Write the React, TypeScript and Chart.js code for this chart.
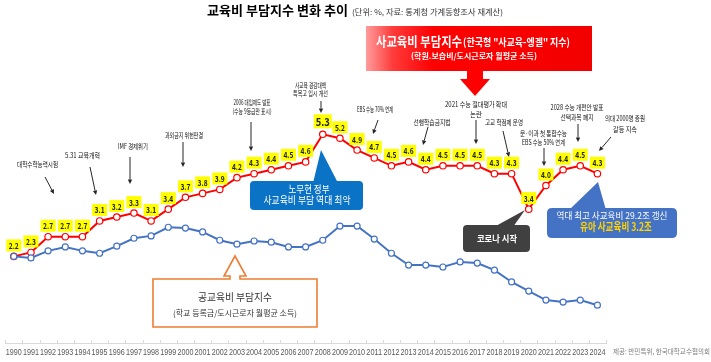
import React, { useEffect, useRef } from 'react';
import { Chart, registerables } from 'chart.js';

Chart.register(...registerables);

// ---------- data ----------
const years = [
  '1990', '1991', '1992', '1993', '1994', '1995', '1996', '1997', '1998', '1999',
  '2000', '2001', '2002', '2003', '2004', '2005', '2006', '2007', '2008', '2009',
  '2010', '2011', '2012', '2013', '2014', '2015', '2016', '2017', '2018', '2019',
  '2020', '2021', '2022', '2023', '2024',
];

// 사교육비 부담지수 (red)
const privateIndex = [
  2.2, 2.3, 2.7, 2.7, 2.7, 3.1, 3.2, 3.3, 3.1, 3.4,
  3.7, 3.8, 3.9, 4.2, 4.3, 4.4, 4.5, 4.6, 5.3, 5.2,
  4.9, 4.7, 4.5, 4.6, 4.4, 4.5, 4.5, 4.5, 4.3, 4.3,
  3.4, 4.0, 4.4, 4.5, 4.3,
];

// 공교육비 부담지수 (blue, unlabelled; estimated)
const publicIndex = [
  2.2, 2.16, 2.34, 2.44, 2.34, 2.28, 2.46, 2.66, 2.72, 2.94,
  2.92, 2.82, 2.61, 2.51, 2.59, 2.56, 2.44, 2.44, 2.61, 2.97,
  2.97, 2.64, 2.28, 1.98, 1.98, 1.93, 2.06, 2.03, 1.85, 1.55,
  1.32, 1.09, 1.04, 1.09, 0.96,
];

const titleText = '교육비 부담지수 변화 추이';
const subtitleText = '(단위: %, 자료: 통계청 가계동향조사 재계산)';
const creditText = '제공: 반민특위, 한국대학교수협의회';

// event annotations: text lines
const eventTexts = [
  ['대학수학능력시험'],
  ['5.31 교육개혁'],
  ['IMF 경제위기'],
  ['과외금지 위헌판결'],
  ['2006 대입제도 발표', '(수능 9등급만 표시)'],
  ['사교육 경감대책', '특목고 입시 개선'],
  ['EBS 수능 70% 연계'],
  ['선행학습금지법'],
  ['2021 수능 절대평가 확대', '논란'],
  ['고교 학점제 운영'],
  ['문·이과 첫 통합수능', 'EBS 수능 50% 연계'],
  ['2028 수능 개편안 발표', '선택과목 폐지'],
  ['의대 2000명 증원', '갈등 지속'],
];

// ---------- layout of annotations (positions only) ----------
const eventLayout = [
  { cx: 37.5, ys: [164.5], ws: [41], arrow: [45, 177, 54, 194] },
  { cx: 82.5, ys: [155.5], ws: [35], arrow: [90, 167, 96, 195] },
  { cx: 133, ys: [146], ws: [30], arrow: [130, 157, 130, 184] },
  { cx: 184, ys: [135], ws: [38], arrow: [183, 142, 183, 167] },
  { cx: 252, ys: [102, 111.5], ws: [37, 39], arrow: [251, 122, 251, 151] },
  { cx: 310.5, ys: [85, 93.5], ws: [31, 35], arrow: [321, 101, 321, 113] },
  { cx: 375, ys: [109], ws: [36], arrow: [378, 120, 373, 134] },
  { cx: 432, ys: [122], ws: [37], arrow: [428, 127, 423, 145] },
  { cx: 476, ys: [104, 114], ws: [62, 12], arrow: [476, 120, 476, 144] },
  { cx: 504, ys: [122], ws: [38], arrow: [503, 131, 509, 157] },
  { cx: 543.5, ys: [133, 142], ws: [47, 43], arrow: [544, 148, 544, 166] },
  { cx: 577, ys: [107.5, 117], ws: [53, 33], arrow: [578, 124, 578, 142] },
  { cx: 625, ys: [118, 129], ws: [40, 24], arrow: [611, 137, 599, 151] },
];

const KR = '"Noto Sans CJK KR", "Noto Sans", sans-serif';

type TxtOpts = { bold?: boolean; color?: string; align?: 'left' | 'center'; width?: number; family?: string };

function txt(ctx: CanvasRenderingContext2D, s: string, x: number, y: number, size: number, o: TxtOpts = {}) {
  ctx.save();
  ctx.font = `${o.bold ? 'bold ' : ''}${size}px ${o.family || KR}`;
  ctx.fillStyle = o.color || '#000';
  ctx.textBaseline = 'middle';
  ctx.textAlign = 'left';
  const nat = ctx.measureText(s).width || 1;
  const w = o.width ?? nat;
  const left = o.align === 'center' ? x - w / 2 : x;
  ctx.translate(left, y);
  ctx.scale(w / nat, 1);
  ctx.fillText(s, 0, 0);
  ctx.restore();
}

function arrow(ctx: CanvasRenderingContext2D, x1: number, y1: number, x2: number, y2: number) {
  const ang = Math.atan2(y2 - y1, x2 - x1);
  const hl = 4.5;
  const hw = 2.2;
  const bx = x2 - Math.cos(ang) * hl;
  const by = y2 - Math.sin(ang) * hl;
  ctx.save();
  ctx.strokeStyle = '#262626';
  ctx.fillStyle = '#262626';
  ctx.lineWidth = 1;
  ctx.beginPath();
  ctx.moveTo(x1, y1);
  ctx.lineTo(bx, by);
  ctx.stroke();
  ctx.beginPath();
  ctx.moveTo(x2, y2);
  ctx.lineTo(bx + Math.sin(ang) * hw, by - Math.cos(ang) * hw);
  ctx.lineTo(bx - Math.sin(ang) * hw, by + Math.cos(ang) * hw);
  ctx.closePath();
  ctx.fill();
  ctx.restore();
}

function roundRect(ctx: CanvasRenderingContext2D, x: number, y: number, w: number, h: number, r: number) {
  ctx.beginPath();
  ctx.moveTo(x + r, y);
  ctx.lineTo(x + w - r, y);
  ctx.quadraticCurveTo(x + w, y, x + w, y + r);
  ctx.lineTo(x + w, y + h - r);
  ctx.quadraticCurveTo(x + w, y + h, x + w - r, y + h);
  ctx.lineTo(x + r, y + h);
  ctx.quadraticCurveTo(x, y + h, x, y + h - r);
  ctx.lineTo(x, y + r);
  ctx.quadraticCurveTo(x, y, x + r, y);
  ctx.closePath();
}

function callout(ctx: CanvasRenderingContext2D, x: number, y: number, w: number, h: number, r: number,
  tri: number[], fill: string) {
  ctx.save();
  ctx.fillStyle = fill;
  roundRect(ctx, x, y, w, h, r);
  ctx.fill();
  ctx.beginPath();
  ctx.moveTo(tri[0], tri[1]);
  ctx.lineTo(tri[2], tri[3]);
  ctx.lineTo(tri[4], tri[5]);
  ctx.closePath();
  ctx.fill();
  ctx.restore();
}

// x-axis tick labels, placed through the category scale, condensed to fit
const axisLabelPlugin = {
  id: 'axisLabels',
  afterDraw(chart: any) {
    const ctx: CanvasRenderingContext2D = chart.ctx;
    const xs = chart.scales.x;
    ctx.save();
    ctx.strokeStyle = '#d9d9d9';
    ctx.lineWidth = 1;
    const n = xs.ticks.length;
    for (let i = 0; i <= n; i++) {
      const x = Math.round(xs.left + (i * xs.width) / n) + 0.5;
      ctx.beginPath();
      ctx.moveTo(x, xs.top - 3);
      ctx.lineTo(x, xs.top);
      ctx.stroke();
    }
    ctx.restore();
    xs.ticks.forEach((t: any, i: number) => {
      const label = xs.getLabelForValue(t.value);
      txt(ctx, String(label), xs.getPixelForTick(i), xs.top + 10, 9, {
        color: '#595959', align: 'center', width: 16, family: '"Liberation Sans", "DejaVu Sans", sans-serif',
      });
    });
  },
};

const decorPlugin = {
  id: 'decor',
  afterDraw(chart: any) {
    const ctx: CanvasRenderingContext2D = chart.ctx;

    // title
    txt(ctx, titleText, 207, 10, 13, { bold: true, color: '#000', width: 141 });
    txt(ctx, subtitleText, 352, 12, 7.5, { color: '#333', width: 151 });

    // red callout
    ctx.save();
    const g = ctx.createLinearGradient(366, 0, 592, 0);
    g.addColorStop(0, '#ff9c9c');
    g.addColorStop(0.12, '#ff3a3a');
    g.addColorStop(0.3, '#ff0000');
    g.addColorStop(1, '#f20000');
    ctx.fillStyle = g;
    ctx.fillRect(366, 26, 226, 45);
    ctx.fillStyle = '#ff0000';
    ctx.fillRect(467, 71, 16, 8);
    ctx.beginPath();
    ctx.moveTo(460, 79);
    ctx.lineTo(490, 79);
    ctx.lineTo(475, 96);
    ctx.closePath();
    ctx.fill();
    ctx.restore();
    txt(ctx, '사교육비 부담지수', 376, 41, 13, { bold: true, color: '#fff', width: 86 });
    txt(ctx, '(한국형 "사교육-엥겔" 지수)', 463, 42, 10.5, { bold: true, color: '#fff', width: 107 });
    txt(ctx, '(학원.보습비/도시근로자 월평균 소득)', 474, 56, 8, { bold: true, color: '#fff', align: 'center', width: 126 });

    // event annotations
    eventTexts.forEach((lines, i) => {
      const L = eventLayout[i];
      lines.forEach((s, j) => {
        txt(ctx, s, L.cx, L.ys[j], 7, { color: '#111', align: 'center', width: L.ws[j] });
      });
      const a = L.arrow;
      arrow(ctx, a[0], a[1], a[2], a[3]);
    });

    // blue callout (노무현 정부)
    callout(ctx, 250, 181, 113, 29, 4, [313, 183, 338, 183, 321, 150], '#0b73c6');
    txt(ctx, '노무현 정부', 309, 189, 10, { color: '#fff', align: 'center', width: 41 });
    txt(ctx, '사교육비 부담 역대 최악', 307, 200, 10, { color: '#fff', align: 'center', width: 87 });

    // dark callout (코로나 시작)
    callout(ctx, 463, 225, 67, 27, 4, [494, 227, 513, 227, 525, 210], '#404040');
    txt(ctx, '코로나 시작', 497, 238.5, 9.5, { bold: true, color: '#fff', align: 'center', width: 40 });

    // blue callout 2
    callout(ctx, 547, 208, 130, 30, 5, [569, 210, 606, 210, 598, 182], '#4472c4');
    txt(ctx, '역대 최고 사교육비 29.2조 갱신', 612, 216, 9, { color: '#fff', align: 'center', width: 111 });
    txt(ctx, '유아 사교육비 3.2조', 616, 226.5, 11, { bold: true, color: '#ffd200', align: 'center', width: 72 });

    // orange up-arrow callout
    ctx.save();
    ctx.beginPath();
    ctx.moveTo(153, 279);
    ctx.lineTo(230, 279);
    ctx.lineTo(230, 276);
    ctx.lineTo(224, 276);
    ctx.lineTo(235, 256);
    ctx.lineTo(246, 276);
    ctx.lineTo(240, 276);
    ctx.lineTo(240, 279);
    ctx.lineTo(317, 279);
    ctx.lineTo(317, 327);
    ctx.lineTo(153, 327);
    ctx.closePath();
    ctx.fillStyle = '#fff';
    ctx.fill();
    ctx.strokeStyle = '#ed7d31';
    ctx.lineWidth = 1.6;
    ctx.stroke();
    ctx.restore();
    txt(ctx, '공교육비 부담지수', 235, 297, 10.5, { color: '#333', align: 'center', width: 74 });
    txt(ctx, '(학교 등록금/도시근로자 월평균 소득)', 235, 312.5, 8, { color: '#333', align: 'center', width: 124 });

    // credit
    txt(ctx, creditText, 613, 351, 7, { color: '#7f7f7f', width: 97 });
  },
};

const labelPlugin = {
  id: 'valueLabels',
  afterDatasetsDraw(chart: any) {
    const ctx: CanvasRenderingContext2D = chart.ctx;
    const meta = chart.getDatasetMeta(1);
    const maxV = Math.max(...privateIndex);
    meta.data.forEach((pt: any, i: number) => {
      const v = privateIndex[i];
      const big = v === maxV;
      const w = big ? 18 : 15;
      const h = big ? 14 : 12;
      const cy = pt.y - (big ? 13 : 11);
      ctx.save();
      ctx.fillStyle = '#ffff00';
      ctx.fillRect(pt.x - w / 2, cy - h / 2, w, h);
      ctx.restore();
      txt(ctx, v.toFixed(1), pt.x, cy + 0.5, big ? 11 : 8, { bold: true, color: '#222', align: 'center', width: big ? 14 : 10 });
    });
  },
};

export default function App() {
  const ref = useRef<HTMLCanvasElement | null>(null);

  useEffect(() => {
    if (!ref.current) return;
    const chart = new Chart(ref.current, {
      type: 'line',
      data: {
        labels: years,
        datasets: [
          {
            label: '공교육비 부담지수',
            data: publicIndex,
            borderColor: '#4472c4',
            borderWidth: 2,
            pointRadius: 3,
            pointBorderWidth: 1.2,
            pointBackgroundColor: '#ffffff',
            pointBorderColor: '#4472c4',
            tension: 0,
          },
          {
            label: '사교육비 부담지수',
            data: privateIndex,
            borderColor: '#ff0000',
            borderWidth: 2,
            pointRadius: 3.2,
            pointBorderWidth: 1.2,
            pointBackgroundColor: '#ffffff',
            pointBorderColor: '#ff0000',
            tension: 0,
          },
        ],
      },
      options: {
        animation: false,
        responsive: false,
        devicePixelRatio: 1,
        layout: { padding: { left: 1, right: 105, top: 28, bottom: 0 } },
        plugins: {
          legend: { display: false },
          tooltip: { enabled: false },
          title: { display: false },
        },
        scales: {
          x: {
            offset: true,
            grid: { display: false, drawTicks: false },
            border: { display: true, color: '#d9d9d9', width: 1 },
            ticks: { display: false, autoSkip: false, maxRotation: 0 },
            afterFit: (s: any) => { s.height = 19; },
          },
          y: { display: false, min: 0, max: 8 },
        },
      },
      plugins: [labelPlugin, decorPlugin, axisLabelPlugin],
    });
    return () => chart.destroy();
  }, []);

  return (
    <div style={{ position: 'fixed', left: 0, top: 0, width: 711, height: 362, background: '#fff' }}>
      <canvas ref={ref} width={711} height={362} style={{ display: 'block', width: 711, height: 362 }} />
    </div>
  );
}
